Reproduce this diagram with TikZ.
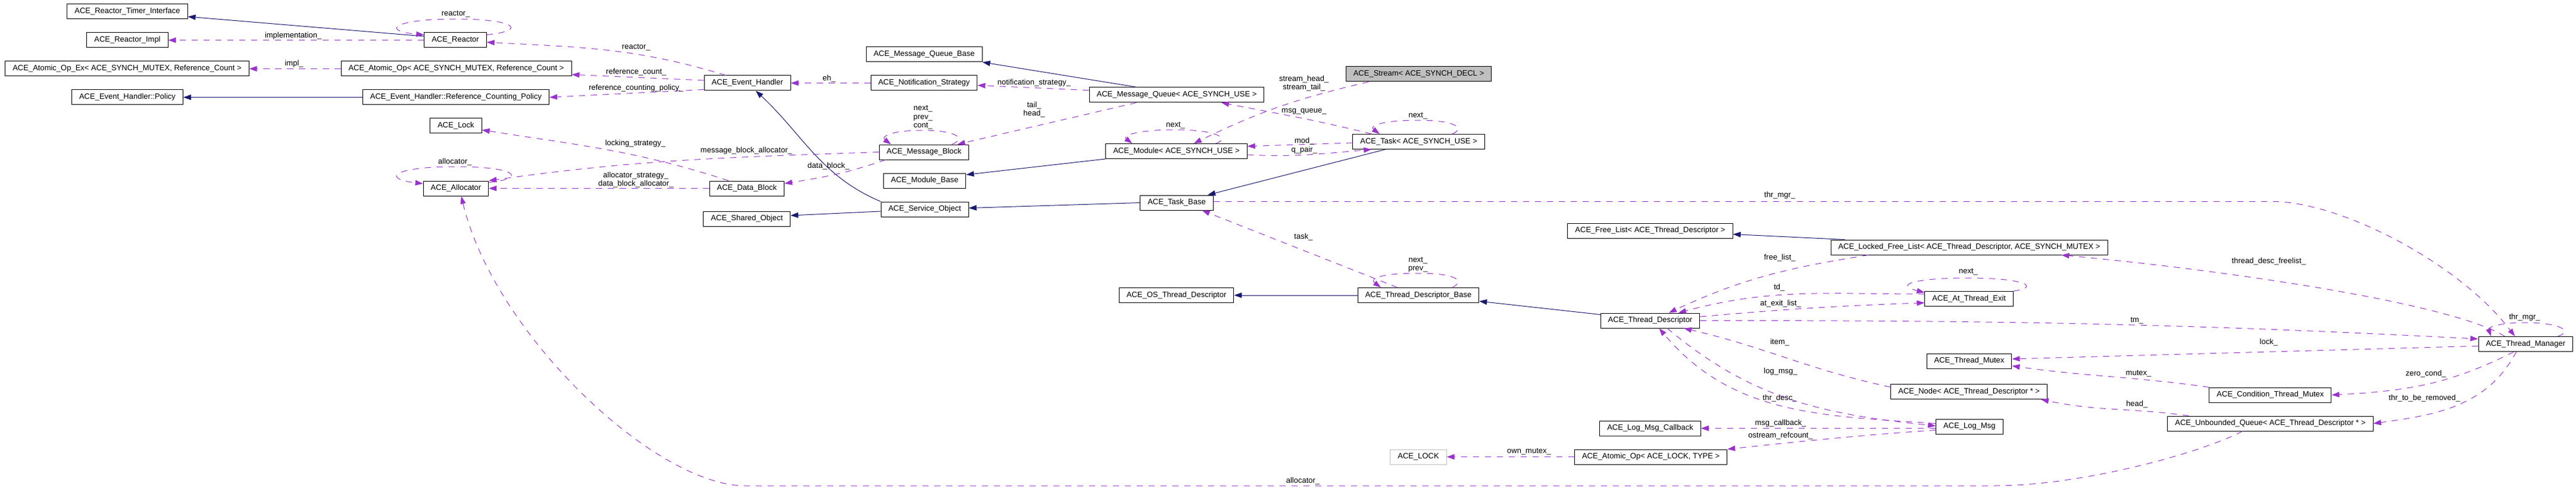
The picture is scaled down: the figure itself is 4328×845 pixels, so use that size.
\documentclass[tikz,border=0pt]{standalone}
\usepackage{fontspec}
\setmainfont{Liberation Sans}
\usepackage{tikz}
\usetikzlibrary{arrows.meta}
\definecolor{inhblue}{HTML}{191970}
\definecolor{usepurple}{HTML}{9A32CD}
\definecolor{rootgray}{HTML}{BFBFBF}
\definecolor{extgray}{HTML}{BFBFBF}
\tikzset{
  cls/.style={draw=black, line width=1pt, minimum height=25pt, inner xsep=12.5pt, inner ysep=0pt,
    font=\fontsize{13}{14.5}\selectfont},
  rootcls/.style={cls, fill=rootgray},
  extcls/.style={cls, draw=extgray},
  inherit/.style={draw=inhblue, line width=1pt, -{Triangle[length=13pt,width=9pt]}},
  usage/.style={draw=usepurple, line width=1pt, dash pattern=on 10.5pt off 9.5pt,
    -{Triangle[length=13pt,width=9pt]}},
  lab/.style={inner sep=0pt, align=center, font=\fontsize{13}{14.5}\selectfont},
}

\begin{document}
\begin{tikzpicture}[x=1pt,y=-1pt]
  \useasboundingbox (0,0) rectangle (4328,845);

  % classes, column by column
  \node[cls] (rti)     at (214,19.5)    {ACE\_Reactor\_Timer\_Interface};
  \node[cls] (rimpl)   at (214,67.5)    {ACE\_Reactor\_Impl};
  \node[cls] (aoex)    at (213.5,115.5) {ACE\_Atomic\_Op\_Ex< ACE\_SYNCH\_MUTEX, Reference\_Count >};
  \node[cls] (ehpol)   at (214,163.5)   {ACE\_Event\_Handler::Policy};
  \node[cls] (reactor) at (765,67.5)    {ACE\_Reactor};
  \node[cls] (aomx)    at (766.5,115.5) {ACE\_Atomic\_Op< ACE\_SYNCH\_MUTEX, Reference\_Count >};
  \node[cls] (rcp)     at (766,163.5)   {ACE\_Event\_Handler::Reference\_Counting\_Policy};
  \node[cls] (lock)    at (766,211.5)   {ACE\_Lock};
  \node[cls] (alloc)   at (766,316.5)   {ACE\_Allocator};
  \node[cls] (eh)      at (1255.7,139.5) {ACE\_Event\_Handler};
  \node[cls] (dblock)  at (1254.8,316.5) {ACE\_Data\_Block};
  \node[cls] (shobj)   at (1254.8,367.5) {ACE\_Shared\_Object};
  \node[cls] (mqbase)  at (1552.7,91.5)  {ACE\_Message\_Queue\_Base};
  \node[cls] (notif)   at (1552.5,139.5) {ACE\_Notification\_Strategy};
  \node[cls] (mblock)  at (1552.5,255.5) {ACE\_Message\_Block};
  \node[cls] (modbase) at (1553.6,303.5) {ACE\_Module\_Base};
  \node[cls] (svcobj)  at (1553.6,351.5) {ACE\_Service\_Object};
  \node[cls] (mqueue)  at (1977,159.5)   {ACE\_Message\_Queue< ACE\_SYNCH\_USE >};
  \node[cls] (module)  at (1976.5,254)   {ACE\_Module< ACE\_SYNCH\_USE >};
  \node[cls] (tbase)   at (1977,340.5)   {ACE\_Task\_Base};
  \node[cls] (ostd)    at (1976.6,496)   {ACE\_OS\_Thread\_Descriptor};
  \node[rootcls] (stream) at (2383.6,124.5) {ACE\_Stream< ACE\_SYNCH\_DECL >};
  \node[cls] (task)    at (2383.6,238)   {ACE\_Task< ACE\_SYNCH\_USE >};
  \node[cls] (tdbase)  at (2383,496)     {ACE\_Thread\_Descriptor\_Base};
  \node[extcls] (acelock) at (2383,767.5) {ACE\_LOCK};
  \node[cls] (flist)   at (2772.5,387.5) {ACE\_Free\_List< ACE\_Thread\_Descriptor >};
  \node[cls] (tdesc)   at (2772.5,538.5) {ACE\_Thread\_Descriptor};
  \node[cls] (logcb)   at (2772.5,719.5) {ACE\_Log\_Msg\_Callback};
  \node[cls] (aolock)  at (2773.6,767.5) {ACE\_Atomic\_Op< ACE\_LOCK, TYPE >};
  \node[cls] (lflist)  at (3308.5,415.5) {ACE\_Locked\_Free\_List< ACE\_Thread\_Descriptor, ACE\_SYNCH\_MUTEX >};
  \node[cls] (atexit)  at (3308.2,502)   {ACE\_At\_Thread\_Exit};
  \node[cls] (tmutex)  at (3308.5,606.5) {ACE\_Thread\_Mutex};
  \node[cls] (tnode)   at (3308.2,658)   {ACE\_Node< ACE\_Thread\_Descriptor * >};
  \node[cls] (logmsg)  at (3308.9,716.5) {ACE\_Log\_Msg};
  \node[cls] (cond)    at (3814.4,663.5) {ACE\_Condition\_Thread\_Mutex};
  \node[cls] (uqueue)  at (3814.4,711.5) {ACE\_Unbounded\_Queue< ACE\_Thread\_Descriptor * >};
  \node[cls] (tmgr)    at (4243.3,578)   {ACE\_Thread\_Manager};

  % inheritance
  \draw[inherit] ([yshift=6.5pt]reactor.west) -- ([yshift=-8.5pt]rti.east);
  \draw[inherit] (rcp.west) -- (ehpol.east);
  \draw[inherit] (svcobj.north west) to[out=157,in=-43] ([xshift=14pt]eh.south);
  \draw[inherit] ([yshift=-3.5pt]svcobj.west) -- ([yshift=5.5pt]shobj.east);
  \draw[inherit] ([xshift=-66.5pt]mqueue.north) -- (mqbase.south east);
  \draw[inherit] (module.south west) -- ([yshift=10pt]modbase.east);
  \draw[inherit] (tbase.west) -- ([yshift=2pt]svcobj.east);
  \draw[inherit] ([xshift=-56pt]task.south) -- ([xshift=52pt]tbase.north);
  \draw[inherit] ([xshift=-209pt]lflist.north) -- ([yshift=-6pt]flist.east);
  \draw[inherit] (tdbase.west) -- (ostd.east);
  \draw[inherit] ([yshift=10pt]tdesc.west) -- ([yshift=-10pt]tdbase.east);

  % members, left part
  \draw[usage] ([yshift=9pt]reactor.east) .. controls (885,52) and (870,32) .. (765,32)
    .. controls (660,32) and (640,52) .. ([yshift=9pt]reactor.west);
  \node[lab] (lbReactorSelf) at (765.7,24) {reactor\_};
  \draw[usage] (reactor.west) -- (rimpl.east);
  \node[lab] (lbImpl) at (492.7,60) {implementation\_};
  \draw[usage] (aomx.west) -- (aoex.east);
  \node[lab] (lbImplEx) at (494.1,107.3) {impl\_};
  \draw[usage] ([xshift=-36.4pt]eh.north) to[out=163,in=-3] ([yshift=-3.5pt]reactor.east);
  \node[lab] (lbReactor) at (1068.8,80) {reactor\_};
  \draw[usage] ([yshift=4.5pt]eh.west) -- ([yshift=-9.8pt]aomx.east);
  \node[lab] (lbRefCount) at (1068.8,120.7) {reference\_count\_};
  \draw[usage] ([yshift=-11pt]eh.west) -- (rcp.east);
  \node[lab] (lbRefPol) at (1068.8,147.7) {reference\_counting\_policy\_};
  \draw[usage] (notif.west) -- (eh.east);
  \node[lab] (lbEh) at (1393,131.7) {eh\_};
  \draw[usage] ([xshift=-30.8pt]dblock.north) to[out=162,in=-9] ([yshift=-6.8pt]lock.east);
  \node[lab] (lbLocking) at (1067.4,240.7) {locking\_strategy\_};
  \draw[usage] (mblock.west) to[out=182,in=8] (alloc.north east);
  \node[lab] (lbMbAlloc) at (1253.9,252.7) {message\_block\_allocator\_};
  \draw[usage] (dblock.west) -- (alloc.east);
  \node[lab] (lbDbAlloc) at (1068.3,302) {allocator\_strategy\_\\data\_block\_allocator\_};
  \draw[usage] ([yshift=10pt]alloc.east) .. controls (885,300) and (870,280) .. (766,280)
    .. controls (660,280) and (640,300) .. ([yshift=8pt]alloc.west);
  \node[lab] (lbAllocSelf) at (764.4,271.7) {allocator\_};
  \draw[usage] ([xshift=-47pt]uqueue.south) .. controls (3700,760) and (3500,816) .. (3350,816)
    -- (1252,816) .. controls (1100,816) and (830,560) .. ([xshift=9pt]alloc.south);
  \node[lab] (lbUqAlloc) at (2189,807.7) {allocator\_};

  % members, middle part
  \draw[usage] ([xshift=-68pt]mqueue.south) -- ([xshift=56pt]mblock.north);
  \node[lab] (lbTailHead) at (1737.5,184) {tail\_\\head\_};
  \draw[usage] ([xshift=47pt]mblock.north) .. controls (1625,232) and (1605,219) .. (1550,219)
    .. controls (1495,219) and (1480,230) .. ([xshift=-55.5pt]mblock.north);
  \node[lab] (lbMbSelf) at (1550.8,197.3) {next\_\\prev\_\\cont\_};
  \draw[usage] ([yshift=7.8pt]mqueue.west) -- ([yshift=-3.8pt]notif.east);
  \node[lab] (lbNotif) at (1737.3,139.3) {notification\_strategy\_};
  \draw[usage] ([xshift=-64.8pt]mblock.south) to[out=199,in=9] ([yshift=8.2pt]dblock.east);
  \node[lab] (lbDataBlock) at (1392,279.3) {data\_block\_};
  \draw[usage] ([xshift=-84pt]stream.south) to[out=193,in=26] ([xshift=29.3pt]module.north);
  \node[lab] (lbStream) at (2190.7,140.2) {stream\_head\_\\stream\_tail\_};
  \draw[usage] ([xshift=66pt]module.north) .. controls (2070,232) and (2040,218) .. (1975,218)
    .. controls (1910,218) and (1885,228) .. ([xshift=-74.3pt]module.north);
  \node[lab] (lbModSelf) at (1975,211) {next\_};
  \draw[usage] ([xshift=-79.6pt]task.north) to[out=166,in=-11] ([xshift=75pt]mqueue.south);
  \node[lab] (lbMsgQueue) at (2191,187.7) {msg\_queue\_};
  \draw[usage] ([xshift=56.4pt]task.north) .. controls (2465,214) and (2440,202) .. (2383,202)
    .. controls (2320,202) and (2300,212) .. ([xshift=-65.6pt]task.north);
  \node[lab] (lbTaskSelf) at (2382.4,195) {next\_};
  \draw[usage] ([yshift=-2pt]task.west) -- ([yshift=8.3pt]module.east);
  \node[lab] (lbMod) at (2191.3,236.7) {mod\_};
  \draw[usage] ([yshift=-6pt]module.east) to[out=-3,in=185] ([xshift=-79.4pt]task.south);
  \node[lab] (lbQPair) at (2191.3,251.7) {q\_pair\_};
  \draw[usage] ([xshift=-35pt]tdbase.north) -- ([xshift=42.6pt]tbase.south);
  \node[lab] (lbTask) at (2190,398.3) {task\_};
  \draw[usage] ([xshift=57pt]tdbase.north) .. controls (2465,470) and (2440,459) .. (2383,459)
    .. controls (2320,459) and (2300,468) .. ([xshift=-63pt]tdbase.north);
  \node[lab] (lbTdbSelf) at (2382.4,444.5) {next\_\\prev\_};
  \draw[usage] ([yshift=2pt]tbase.east) -- (3818,338.5)
    .. controls (3930,338.5) and (4130,440) .. ([xshift=-18pt]tmgr.north);
  \node[lab] (lbThrMgr) at (2990.2,328.3) {thr\_mgr\_};

  % members, thread part
  \draw[usage] ([xshift=-35pt]tmgr.north) .. controls (4120,510) and (3750,455) .. ([xshift=155pt]lflist.south);
  \node[lab] (lbFreelist) at (3811.8,439.3) {thread\_desc\_freelist\_};
  \draw[usage] ([xshift=-169.5pt]lflist.south) to[out=189,in=25] ([xshift=31.3pt]tdesc.north);
  \node[lab] (lbFreeList) at (2990.2,432.7) {free\_list\_};
  \draw[usage] ([yshift=8pt]atexit.west) to[out=180,in=15] ([xshift=47.4pt]tdesc.north);
  \node[lab] (lbTd) at (2989.3,483) {td\_};
  \draw[usage] ([yshift=6.5pt]tdesc.east) to[out=5,in=182] ([yshift=-6.7pt]atexit.west);
  \node[lab] (lbAtExit) at (2991.6,510.3) {at\_exit\_list\_};
  \draw[usage] (atexit.north east) .. controls (3430,482) and (3400,467) .. (3307,467)
    .. controls (3220,467) and (3180,478) .. ([yshift=10.5pt]atexit.west);
  \node[lab] (lbAteSelf) at (3307,456.3) {next\_};
  \draw[usage] (tdesc.east) .. controls +(506,0) and +(-505,-26) .. ([yshift=8.7pt]tmgr.west);
  \node[lab] (lbTm) at (3590.3,538.7) {tm\_};
  \draw[usage] ([yshift=-3.3pt]tmgr.west) -- ([yshift=3.5pt]tmutex.east);
  \node[lab] (lbLock) at (3811.8,575.3) {lock\_};
  \draw[usage] (cond.north west) to[out=172,in=-8] ([yshift=-8.2pt]tmutex.east);
  \node[lab] (lbMutex) at (3593,627.7) {mutex\_};
  \draw[usage] ([xshift=-20pt]tmgr.south) to[out=-153,in=3] (cond.east);
  \node[lab] (lbZeroCond) at (4075.7,627.7) {zero\_cond\_};
  \draw[usage] ([xshift=-15.6pt]tmgr.south) to[out=-118,in=8] (uqueue.east);
  \node[lab] (lbRemoved) at (4073.4,668.7) {thr\_to\_be\_removed\_};
  \draw[usage] ([xshift=-137pt]uqueue.north) to[out=172,in=-12] ([xshift=120.8pt]tnode.south);
  \node[lab] (lbHead) at (3590.3,679.3) {head\_};
  \draw[usage] ([yshift=7.7pt]tnode.west) to[out=168,in=-13] ([xshift=56.5pt]tdesc.south);
  \node[lab] (lbItem) at (2990.2,575.3) {item\_};
  \draw[usage] ([yshift=5pt]logmsg.west) to[out=176,in=-50] ([xshift=15pt]tdesc.south);
  \node[lab] (lbThrDesc) at (2990.2,668.7) {thr\_desc\_};
  \draw[usage] ([xshift=28.5pt]tdesc.south) to[out=-40,in=174] ([yshift=1pt]logmsg.west);
  \node[lab] (lbLogMsg) at (2991.6,623.7) {log\_msg\_};
  \draw[usage] ([yshift=-3pt]logmsg.west) -- (logcb.east);
  \node[lab] (lbCallback) at (2991.6,711.3) {msg\_callback\_};
  \draw[usage] ([yshift=-6pt]logmsg.west) to[out=184,in=6] (aolock.north east);
  \node[lab] (lbRefcount) at (2991.6,732) {ostream\_refcount\_};
  \draw[usage] (aolock.west) -- (acelock.east);
  \node[lab] (lbOwnMutex) at (2569,758.7) {own\_mutex\_};
  \draw[usage] ([xshift=54pt]tmgr.north) .. controls (4325,556) and (4300,542) .. (4241.5,542)
    .. controls (4200,542) and (4180,550) .. ([xshift=-58pt]tmgr.north);
  \node[lab] (lbTmgrSelf) at (4241.5,533) {thr\_mgr\_};
\end{tikzpicture}
\end{document}
